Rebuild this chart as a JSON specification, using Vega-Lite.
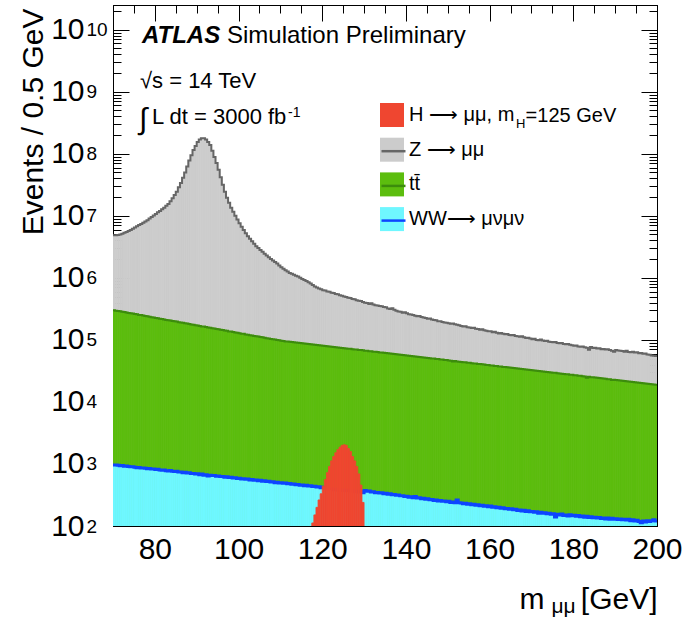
{
"$schema": "https://vega.github.io/schema/vega-lite/v6.json",
"autosize": {"type": "none"},
"padding": {"left": 113, "top": 5, "right": 38, "bottom": 92},
"width": 544,
"height": 521,
"background": "white",
"config": {
  "font": "Liberation Sans",
  "view": {"stroke": "black", "strokeWidth": 1},
  "axis": {"grid": false, "domainColor": "black", "tickColor": "black", "labelColor": "black", "titleColor": "black", "labelFont": "Liberation Sans", "titleFont": "Liberation Sans", "titleFontWeight": "normal", "zindex": 1, "tickWidth": 1, "domainWidth": 1, "labelOverlap": false, "labelFlush": false},
  "legend": {"labelFont": "Liberation Sans", "labelColor": "black"}
},
"data": {"values": [
{"m":70,"z":4.84e6,"t":3.01e5,"w":966},
{"m":70.5,"z":4.86e6,"t":2.95e5,"w":958},
{"m":71,"z":4.90e6,"t":2.92e5,"w":955},
{"m":71.5,"z":5.01e6,"t":2.90e5,"w":938},
{"m":72,"z":5.13e6,"t":2.84e5,"w":942},
{"m":72.5,"z":5.31e6,"t":2.81e5,"w":920},
{"m":73,"z":5.50e6,"t":2.77e5,"w":925},
{"m":73.5,"z":5.69e6,"t":2.71e5,"w":910},
{"m":74,"z":5.89e6,"t":2.69e5,"w":898},
{"m":74.5,"z":6.17e6,"t":2.66e5,"w":905},
{"m":75,"z":6.46e6,"t":2.61e5,"w":884},
{"m":75.5,"z":6.76e6,"t":2.58e5,"w":870},
{"m":76,"z":7.08e6,"t":2.52e5,"w":880},
{"m":76.5,"z":7.41e6,"t":2.51e5,"w":860},
{"m":77,"z":7.76e6,"t":2.47e5,"w":862},
{"m":77.5,"z":8.13e6,"t":2.42e5,"w":850},
{"m":78,"z":8.51e6,"t":2.40e5,"w":838},
{"m":78.5,"z":9.02e6,"t":2.36e5,"w":845},
{"m":79,"z":9.55e6,"t":2.32e5,"w":826},
{"m":79.5,"z":1.01e7,"t":2.30e5,"w":830},
{"m":80,"z":1.07e7,"t":2.26e5,"w":812},
{"m":80.5,"z":1.14e7,"t":2.24e5,"w":820},
{"m":81,"z":1.20e7,"t":2.19e5,"w":800},
{"m":81.5,"z":1.27e7,"t":2.17e5,"w":792},
{"m":82,"z":1.35e7,"t":2.14e5,"w":800},
{"m":82.5,"z":1.45e7,"t":2.10e5,"w":780},
{"m":83,"z":1.55e7,"t":2.08e5,"w":770},
{"m":83.5,"z":1.72e7,"t":2.06e5,"w":785},
{"m":84,"z":1.91e7,"t":2.02e5,"w":762},
{"m":84.5,"z":2.16e7,"t":1.99e5,"w":755},
{"m":85,"z":2.45e7,"t":1.97e5,"w":760},
{"m":85.5,"z":2.88e7,"t":1.93e5,"w":740},
{"m":86,"z":3.39e7,"t":1.91e5,"w":745},
{"m":86.5,"z":4.12e7,"t":1.89e5,"w":725},
{"m":87,"z":5.01e7,"t":1.85e5,"w":735},
{"m":87.5,"z":6.24e7,"t":1.83e5,"w":712},
{"m":88,"z":7.76e7,"t":1.81e5,"w":720},
{"m":88.5,"z":9.44e7,"t":1.77e5,"w":700},
{"m":89,"z":1.15e8,"t":1.75e5,"w":705},
{"m":89.5,"z":1.33e8,"t":1.72e5,"w":690},
{"m":90,"z":1.55e8,"t":1.71e5,"w":695},
{"m":90.5,"z":1.70e8,"t":1.68e5,"w":670},
{"m":91,"z":1.78e8,"t":1.65e5,"w":688},
{"m":91.5,"z":1.78e8,"t":1.64e5,"w":660},
{"m":92,"z":1.70e8,"t":1.61e5,"w":668},
{"m":92.5,"z":1.55e8,"t":1.59e5,"w":640},
{"m":93,"z":1.38e8,"t":1.57e5,"w":660},
{"m":93.5,"z":1.12e8,"t":1.54e5,"w":650},
{"m":94,"z":8.91e7,"t":1.52e5,"w":652},
{"m":94.5,"z":7.08e7,"t":1.50e5,"w":635},
{"m":95,"z":5.50e7,"t":1.48e5,"w":640},
{"m":95.5,"z":4.17e7,"t":1.46e5,"w":625},
{"m":96,"z":3.16e7,"t":1.44e5,"w":630},
{"m":96.5,"z":2.45e7,"t":1.42e5,"w":612},
{"m":97,"z":1.95e7,"t":1.40e5,"w":620},
{"m":97.5,"z":1.62e7,"t":1.37e5,"w":605},
{"m":98,"z":1.35e7,"t":1.36e5,"w":608},
{"m":98.5,"z":1.16e7,"t":1.34e5,"w":595},
{"m":99,"z":1.00e7,"t":1.32e5,"w":600},
{"m":99.5,"z":8.71e6,"t":1.30e5,"w":585},
{"m":100,"z":7.59e6,"t":1.28e5,"w":590},
{"m":100.5,"z":6.68e6,"t":1.26e5,"w":572},
{"m":101,"z":5.89e6,"t":1.25e5,"w":580},
{"m":101.5,"z":5.25e6,"t":1.22e5,"w":565},
{"m":102,"z":4.68e6,"t":1.21e5,"w":570},
{"m":102.5,"z":4.27e6,"t":1.19e5,"w":552},
{"m":103,"z":3.89e6,"t":1.18e5,"w":562},
{"m":103.5,"z":3.55e6,"t":1.16e5,"w":545},
{"m":104,"z":3.24e6,"t":1.14e5,"w":550},
{"m":104.5,"z":3.02e6,"t":1.13e5,"w":538},
{"m":105,"z":2.82e6,"t":1.11e5,"w":544},
{"m":105.5,"z":2.63e6,"t":1.10e5,"w":528},
{"m":106,"z":2.45e6,"t":1.08e5,"w":535},
{"m":106.5,"z":2.29e6,"t":1.06e5,"w":520},
{"m":107,"z":2.14e6,"t":1.05e5,"w":524},
{"m":107.5,"z":2.02e6,"t":1.03e5,"w":512},
{"m":108,"z":1.91e6,"t":1.02e5,"w":516},
{"m":108.5,"z":1.80e6,"t":1.01e5,"w":500},
{"m":109,"z":1.70e6,"t":9.93e4,"w":508},
{"m":109.5,"z":1.58e6,"t":9.82e4,"w":495},
{"m":110,"z":1.48e6,"t":9.66e4,"w":500},
{"m":110.5,"z":1.40e6,"t":9.57e4,"w":488},
{"m":111,"z":1.32e6,"t":9.46e4,"w":492},
{"m":111.5,"z":1.26e6,"t":9.42e4,"w":478},
{"m":112,"z":1.20e6,"t":9.29e4,"w":484},
{"m":112.5,"z":1.16e6,"t":9.25e4,"w":470},
{"m":113,"z":1.12e6,"t":9.12e4,"w":476},
{"m":113.5,"z":1.08e6,"t":9.04e4,"w":462},
{"m":114,"z":1.05e6,"t":8.97e4,"w":468},
{"m":114.5,"z":1.00e6,"t":8.87e4,"w":455},
{"m":115,"z":9.55e5,"t":8.83e4,"w":458},
{"m":115.5,"z":9.23e5,"t":8.73e4,"w":446},
{"m":116,"z":8.91e5,"t":8.65e4,"w":452},
{"m":116.5,"z":8.51e5,"t":8.61e4,"w":440},
{"m":117,"z":8.13e5,"t":8.49e4,"w":444},
{"m":117.5,"z":7.67e5,"t":8.45e4,"w":432,"h":112},
{"m":118,"z":7.24e5,"t":8.34e4,"w":437,"h":151},
{"m":118.5,"z":7.00e5,"t":8.28e4,"w":425,"h":200},
{"m":119,"z":6.76e5,"t":8.20e4,"w":430,"h":263},
{"m":119.5,"z":6.53e5,"t":8.15e4,"w":415,"h":331},
{"m":120,"z":6.31e5,"t":8.04e4,"w":422,"h":437},
{"m":120.5,"z":6.24e5,"t":8.00e4,"w":405,"h":562},
{"m":121,"z":6.03e5,"t":7.89e4,"w":412,"h":724},
{"m":121.5,"z":5.96e5,"t":7.83e4,"w":400,"h":912},
{"m":122,"z":5.75e5,"t":7.76e4,"w":398,"h":1122},
{"m":122.5,"z":5.69e5,"t":7.71e4,"w":385,"h":1318},
{"m":123,"z":5.50e5,"t":7.60e4,"w":392,"h":1514},
{"m":123.5,"z":5.43e5,"t":7.55e4,"w":380,"h":1698},
{"m":124,"z":5.25e5,"t":7.48e4,"w":388,"h":1862},
{"m":124.5,"z":5.13e5,"t":7.41e4,"w":375,"h":1995},
{"m":125,"z":5.01e5,"t":7.36e4,"w":380,"h":2042},
{"m":125.5,"z":4.90e5,"t":7.28e4,"w":370,"h":1995},
{"m":126,"z":4.79e5,"t":7.21e4,"w":376,"h":1778},
{"m":126.5,"z":4.73e5,"t":7.18e4,"w":365,"h":1585},
{"m":127,"z":4.57e5,"t":7.08e4,"w":368,"h":1318},
{"m":127.5,"z":4.52e5,"t":7.03e4,"w":358,"h":1122},
{"m":128,"z":4.37e5,"t":6.97e4,"w":362,"h":912},
{"m":128.5,"z":4.27e5,"t":6.89e4,"w":352,"h":692},
{"m":129,"z":4.22e5,"t":6.84e4,"w":356,"h":457},
{"m":129.5,"z":4.07e5,"t":6.79e4,"w":345,"h":240},
{"m":130,"z":3.98e5,"t":6.70e4,"w":372},
{"m":130.5,"z":3.94e5,"t":6.67e4,"w":362},
{"m":131,"z":3.80e5,"t":6.58e4,"w":365},
{"m":131.5,"z":3.89e5,"t":6.55e4,"w":352},
{"m":132,"z":3.72e5,"t":6.46e4,"w":356},
{"m":132.5,"z":3.63e5,"t":6.43e4,"w":345},
{"m":133,"z":3.59e5,"t":6.35e4,"w":348},
{"m":133.5,"z":3.51e5,"t":6.28e4,"w":340},
{"m":134,"z":3.47e5,"t":6.24e4,"w":342},
{"m":134.5,"z":3.39e5,"t":6.18e4,"w":332},
{"m":135,"z":3.35e5,"t":6.14e4,"w":338},
{"m":135.5,"z":3.20e5,"t":6.07e4,"w":325},
{"m":136,"z":3.16e5,"t":6.04e4,"w":330},
{"m":136.5,"z":3.24e5,"t":5.96e4,"w":318},
{"m":137,"z":3.05e5,"t":5.92e4,"w":322},
{"m":137.5,"z":2.95e5,"t":5.86e4,"w":312},
{"m":138,"z":2.88e5,"t":5.79e4,"w":315},
{"m":138.5,"z":2.85e5,"t":5.77e4,"w":306},
{"m":139,"z":2.75e5,"t":5.69e4,"w":308},
{"m":139.5,"z":2.79e5,"t":5.65e4,"w":298},
{"m":140,"z":2.69e5,"t":5.60e4,"w":302},
{"m":140.5,"z":2.60e5,"t":5.53e4,"w":292},
{"m":141,"z":2.57e5,"t":5.51e4,"w":296},
{"m":141.5,"z":2.51e5,"t":5.43e4,"w":285},
{"m":142,"z":2.45e5,"t":5.41e4,"w":300},
{"m":142.5,"z":2.40e5,"t":5.33e4,"w":282},
{"m":143,"z":2.43e5,"t":5.31e4,"w":285},
{"m":143.5,"z":2.34e5,"t":5.24e4,"w":276},
{"m":144,"z":2.29e5,"t":5.20e4,"w":280},
{"m":144.5,"z":2.26e5,"t":5.16e4,"w":270},
{"m":145,"z":2.19e5,"t":5.11e4,"w":274},
{"m":145.5,"z":2.21e5,"t":5.07e4,"w":265},
{"m":146,"z":2.14e5,"t":5.01e4,"w":268},
{"m":146.5,"z":2.09e5,"t":4.99e4,"w":258},
{"m":147,"z":2.07e5,"t":4.92e4,"w":262},
{"m":147.5,"z":2.00e5,"t":4.90e4,"w":254},
{"m":148,"z":2.00e5,"t":4.83e4,"w":258},
{"m":148.5,"z":1.95e5,"t":4.81e4,"w":250},
{"m":149,"z":1.91e5,"t":4.74e4,"w":252},
{"m":149.5,"z":1.88e5,"t":4.72e4,"w":245},
{"m":150,"z":1.86e5,"t":4.67e4,"w":250},
{"m":150.5,"z":1.82e5,"t":4.61e4,"w":240},
{"m":151,"z":1.84e5,"t":4.49e4,"w":244},
{"m":151.5,"z":1.78e5,"t":4.55e4,"w":236},
{"m":152,"z":1.76e5,"t":4.50e4,"w":262},
{"m":152.5,"z":1.72e5,"t":4.45e4,"w":238},
{"m":153,"z":1.68e5,"t":4.42e4,"w":235},
{"m":153.5,"z":1.64e5,"t":4.37e4,"w":228},
{"m":154,"z":1.66e5,"t":4.34e4,"w":232},
{"m":154.5,"z":1.60e5,"t":4.29e4,"w":225},
{"m":155,"z":1.58e5,"t":4.26e4,"w":228},
{"m":155.5,"z":1.55e5,"t":4.22e4,"w":220},
{"m":156,"z":1.57e5,"t":4.18e4,"w":224},
{"m":156.5,"z":1.51e5,"t":4.15e4,"w":216},
{"m":157,"z":1.50e5,"t":4.10e4,"w":220},
{"m":157.5,"z":1.46e5,"t":4.07e4,"w":212},
{"m":158,"z":1.48e5,"t":4.03e4,"w":216},
{"m":158.5,"z":1.43e5,"t":4.00e4,"w":208},
{"m":159,"z":1.41e5,"t":3.95e4,"w":212},
{"m":159.5,"z":1.38e5,"t":3.93e4,"w":204},
{"m":160,"z":1.38e5,"t":3.88e4,"w":210},
{"m":160.5,"z":1.33e5,"t":3.85e4,"w":200},
{"m":161,"z":1.35e5,"t":3.81e4,"w":204},
{"m":161.5,"z":1.30e5,"t":3.78e4,"w":197},
{"m":162,"z":1.27e5,"t":3.74e4,"w":200},
{"m":162.5,"z":1.29e5,"t":3.72e4,"w":193},
{"m":163,"z":1.26e5,"t":3.67e4,"w":196},
{"m":163.5,"z":1.23e5,"t":3.65e4,"w":189},
{"m":164,"z":1.24e5,"t":3.61e4,"w":192},
{"m":164.5,"z":1.20e5,"t":3.58e4,"w":186},
{"m":165,"z":1.19e5,"t":3.55e4,"w":189},
{"m":165.5,"z":1.20e5,"t":3.52e4,"w":182},
{"m":166,"z":1.15e5,"t":3.48e4,"w":186},
{"m":166.5,"z":1.14e5,"t":3.46e4,"w":178},
{"m":167,"z":1.12e5,"t":3.42e4,"w":181},
{"m":167.5,"z":1.14e5,"t":3.40e4,"w":175},
{"m":168,"z":1.10e5,"t":3.36e4,"w":179},
{"m":168.5,"z":1.07e5,"t":3.33e4,"w":172},
{"m":169,"z":1.08e5,"t":3.30e4,"w":176},
{"m":169.5,"z":1.05e5,"t":3.27e4,"w":169},
{"m":170,"z":1.02e5,"t":3.24e4,"w":172},
{"m":170.5,"z":1.04e5,"t":3.21e4,"w":166},
{"m":171,"z":1.00e5,"t":3.18e4,"w":169},
{"m":171.5,"z":9.89e4,"t":3.16e4,"w":160},
{"m":172,"z":1.01e5,"t":3.12e4,"w":166},
{"m":172.5,"z":9.77e4,"t":3.10e4,"w":160},
{"m":173,"z":9.55e4,"t":3.06e4,"w":163},
{"m":173.5,"z":9.66e4,"t":3.04e4,"w":157},
{"m":174,"z":9.33e4,"t":3.01e4,"w":160},
{"m":174.5,"z":9.23e4,"t":2.99e4,"w":154},
{"m":175,"z":9.12e4,"t":2.96e4,"w":157},
{"m":175.5,"z":9.23e4,"t":2.94e4,"w":140},
{"m":176,"z":8.91e4,"t":2.90e4,"w":155},
{"m":176.5,"z":8.81e4,"t":2.88e4,"w":150},
{"m":177,"z":8.91e4,"t":2.85e4,"w":156},
{"m":177.5,"z":8.61e4,"t":2.83e4,"w":148},
{"m":178,"z":8.51e4,"t":2.80e4,"w":151},
{"m":178.5,"z":8.61e4,"t":2.78e4,"w":145},
{"m":179,"z":8.32e4,"t":2.75e4,"w":152},
{"m":179.5,"z":8.22e4,"t":2.73e4,"w":146},
{"m":180,"z":8.04e4,"t":2.70e4,"w":149},
{"m":180.5,"z":8.13e4,"t":2.68e4,"w":143},
{"m":181,"z":7.85e4,"t":2.65e4,"w":147},
{"m":181.5,"z":7.76e4,"t":2.63e4,"w":141},
{"m":182,"z":7.85e4,"t":2.60e4,"w":145},
{"m":182.5,"z":7.59e4,"t":2.58e4,"w":139},
{"m":183,"z":7.50e4,"t":2.45e4,"w":143},
{"m":183.5,"z":6.92e4,"t":2.54e4,"w":137},
{"m":184,"z":7.67e4,"t":2.51e4,"w":141},
{"m":184.5,"z":7.41e4,"t":2.49e4,"w":136},
{"m":185,"z":7.50e4,"t":2.47e4,"w":139},
{"m":185.5,"z":7.24e4,"t":2.45e4,"w":134},
{"m":186,"z":7.33e4,"t":2.42e4,"w":137},
{"m":186.5,"z":7.08e4,"t":2.40e4,"w":132},
{"m":187,"z":7.16e4,"t":2.38e4,"w":135},
{"m":187.5,"z":7.00e4,"t":2.36e4,"w":130},
{"m":188,"z":7.08e4,"t":2.33e4,"w":134},
{"m":188.5,"z":6.84e4,"t":2.32e4,"w":129},
{"m":189,"z":6.68e4,"t":2.26e4,"w":133},
{"m":189.5,"z":6.46e4,"t":2.28e4,"w":128},
{"m":190,"z":6.84e4,"t":2.25e4,"w":131},
{"m":190.5,"z":6.76e4,"t":2.23e4,"w":127},
{"m":191,"z":6.68e4,"t":2.21e4,"w":130},
{"m":191.5,"z":6.61e4,"t":2.19e4,"w":126},
{"m":192,"z":6.46e4,"t":2.17e4,"w":129},
{"m":192.5,"z":6.68e4,"t":2.15e4,"w":125},
{"m":193,"z":6.38e4,"t":2.13e4,"w":128},
{"m":193.5,"z":6.31e4,"t":2.11e4,"w":122},
{"m":194,"z":6.46e4,"t":2.09e4,"w":126},
{"m":194.5,"z":6.24e4,"t":2.07e4,"w":120},
{"m":195,"z":6.31e4,"t":2.06e4,"w":124},
{"m":195.5,"z":6.10e4,"t":2.04e4,"w":118},
{"m":196,"z":6.17e4,"t":2.02e4,"w":113},
{"m":196.5,"z":5.96e4,"t":2.00e4,"w":120},
{"m":197,"z":6.03e4,"t":1.98e4,"w":116},
{"m":197.5,"z":5.82e4,"t":1.97e4,"w":122},
{"m":198,"z":5.75e4,"t":1.95e4,"w":118},
{"m":198.5,"z":5.62e4,"t":1.93e4,"w":121},
{"m":199,"z":5.56e4,"t":1.91e4,"w":126},
{"m":199.5,"z":5.50e4,"t":1.90e4,"w":120}
]},
"transform": [
  {"fold": ["z", "t", "w", "h"], "as": ["proc", "v"]},
  {"filter": "isValid(datum.v) && datum.v > 0"},
  {"bin": {"step": 0.5, "extent": [70, 200]}, "field": "m", "as": ["lo", "hi"]}
],
"resolve": {"axis": {"x": "independent", "y": "independent"}},
"layer": [
  {
    "transform": [{"filter": "datum.proc == 'z'"}],
    "mark": {"type": "bar", "clip": true, "opacity": 1, "stroke": "#cccccc", "strokeWidth": 0.8},
    "encoding": {
      "x": {"field": "lo", "type": "quantitative", "scale": {"domain": [70, 200], "nice": false, "zero": false},
        "axis": {"orient": "bottom", "values": [80, 100, 120, 140, 160, 180, 200], "tickSize": -16, "labelFontSize": 30, "labelPadding": 24, "title": "[GeV]", "titleFontSize": 30, "titleX": 544, "titleY": 82, "titleAlign": "right", "titleBaseline": "alphabetic"}},
      "x2": {"field": "hi"},
      "y": {"field": "v", "type": "quantitative", "stack": null, "scale": {"type": "log", "domain": [100, 2.5e10], "nice": false},
        "axis": {"orient": "left", "values": [1e2, 1e3, 1e4, 1e5, 1e6, 1e7, 1e8, 1e9, 1e10], "tickSize": -16, "labelExpr": "'10'", "labelFontSize": 30, "labelAlign": "right", "labelBaseline": "middle", "labelPadding": 45, "title": "Events / 0.5 GeV", "titleFontSize": 30, "titleAngle": -90, "titleX": -80, "titleY": 3, "titleAlign": "right", "titleBaseline": "middle"}},
      "y2": {"datum": 100},
      "fill": {"field": "proc", "type": "nominal",
        "scale": {"domain": ["h", "z", "t", "w"], "range": ["#ef4630", "#cccccc", "#5cbd0e", "#6ff7ff"]},
        "legend": {"orient": "none", "legendX": 267, "legendY": 98, "zindex": 1, "title": null, "symbolType": "square", "symbolSize": 576, "symbolStrokeWidth": 0, "symbolOpacity": 1, "labelFontSize": 20, "labelOffset": 5, "labelLimit": 400, "rowPadding": 10.7, "padding": 0,
          "labelExpr": "datum.label == 'h' ? 'H \u27f6 \u03bc\u03bc, m' : datum.label == 'z' ? 'Z \u27f6 \u03bc\u03bc' : datum.label == 't' ? 'tt\u0304' : 'WW\u27f6 \u03bc\u03bd\u03bc\u03bd'"}}
    }
  },
  {
    "transform": [{"filter": "datum.proc == 'z'"}, {"fold": ["lo", "hi"], "as": ["edge", "x"]}, {"window": [{"op": "row_number", "as": "idx"}]}],
    "mark": {"type": "line", "clip": true, "strokeWidth": 2},
    "encoding": {
      "x": {"field": "x", "type": "quantitative",
        "axis": {"orient": "bottom", "values": [70, 75, 80, 85, 90, 95, 100, 105, 110, 115, 120, 125, 130, 135, 140, 145, 150, 155, 160, 165, 170, 175, 180, 185, 190, 195, 200], "tickSize": -8, "labels": false, "domain": false, "title": "m", "titleFontSize": 30, "titleX": 406, "titleY": 82, "titleAlign": "left", "titleBaseline": "alphabetic"}},
      "y": {"field": "v", "type": "quantitative",
        "axis": {"orient": "left", "values": [200, 300, 400, 500, 600, 700, 800, 900, 2000, 3000, 4000, 5000, 6000, 7000, 8000, 9000, 2e4, 3e4, 4e4, 5e4, 6e4, 7e4, 8e4, 9e4, 2e5, 3e5, 4e5, 5e5, 6e5, 7e5, 8e5, 9e5, 2e6, 3e6, 4e6, 5e6, 6e6, 7e6, 8e6, 9e6, 2e7, 3e7, 4e7, 5e7, 6e7, 7e7, 8e7, 9e7, 2e8, 3e8, 4e8, 5e8, 6e8, 7e8, 8e8, 9e8, 2e9, 3e9, 4e9, 5e9, 6e9, 7e9, 8e9, 9e9, 2e10], "tickSize": -8, "labels": false, "domain": false, "title": null}},
      "order": {"field": "idx", "type": "quantitative"},
      "stroke": {"field": "proc", "type": "nominal",
        "scale": {"domain": ["z", "t", "w"], "range": ["#666666", "#3c8c0c", "#0d45ff"]},
        "legend": {"orient": "none", "legendX": 267, "legendY": 132.7, "zindex": 2, "title": null, "symbolType": "stroke", "symbolSize": 576, "symbolStrokeWidth": 2.5, "labelFontSize": 20, "labelOffset": 5, "rowPadding": 10.7, "padding": 0, "labelExpr": "''"}}
    }
  },
  {
    "transform": [{"filter": "datum.proc == 't'"}],
    "mark": {"type": "bar", "clip": true, "opacity": 1, "stroke": "#5cbd0e", "strokeWidth": 0.8},
    "encoding": {
      "x": {"field": "lo", "type": "quantitative",
        "axis": {"orient": "top", "values": [80, 100, 120, 140, 160, 180, 200], "tickSize": -16, "labels": false, "domain": true, "title": "\u03bc\u03bc", "titleFontSize": 21, "titleX": 438, "titleY": 607, "titleAlign": "left", "titleBaseline": "alphabetic"}},
      "x2": {"field": "hi"},
      "y": {"field": "v", "type": "quantitative", "stack": null,
        "axis": {"orient": "right", "values": [1e2, 1e3, 1e4, 1e5, 1e6, 1e7, 1e8, 1e9, 1e10], "tickSize": -16, "labels": false, "domain": true, "title": null}},
      "y2": {"datum": 100},
      "fill": {"field": "proc", "type": "nominal", "legend": null}
    }
  },
  {
    "transform": [{"filter": "datum.proc == 't'"}, {"fold": ["lo", "hi"], "as": ["edge", "x"]}, {"window": [{"op": "row_number", "as": "idx"}]}],
    "mark": {"type": "line", "clip": true, "strokeWidth": 2},
    "encoding": {
      "x": {"field": "x", "type": "quantitative",
        "axis": {"orient": "top", "values": [70, 75, 80, 85, 90, 95, 100, 105, 110, 115, 120, 125, 130, 135, 140, 145, 150, 155, 160, 165, 170, 175, 180, 185, 190, 195, 200], "tickSize": -8, "labels": false, "domain": false, "title": null}},
      "y": {"field": "v", "type": "quantitative",
        "axis": {"orient": "right", "values": [200, 300, 400, 500, 600, 700, 800, 900, 2000, 3000, 4000, 5000, 6000, 7000, 8000, 9000, 2e4, 3e4, 4e4, 5e4, 6e4, 7e4, 8e4, 9e4, 2e5, 3e5, 4e5, 5e5, 6e5, 7e5, 8e5, 9e5, 2e6, 3e6, 4e6, 5e6, 6e6, 7e6, 8e6, 9e6, 2e7, 3e7, 4e7, 5e7, 6e7, 7e7, 8e7, 9e7, 2e8, 3e8, 4e8, 5e8, 6e8, 7e8, 8e8, 9e8, 2e9, 3e9, 4e9, 5e9, 6e9, 7e9, 8e9, 9e9, 2e10], "tickSize": -8, "labels": false, "domain": false, "title": null}},
      "order": {"field": "idx", "type": "quantitative"},
      "stroke": {"field": "proc", "type": "nominal", "legend": null}
    }
  },
  {
    "transform": [{"filter": "datum.proc == 'w'"}],
    "mark": {"type": "bar", "clip": true, "opacity": 1, "stroke": "#6ff7ff", "strokeWidth": 0.8},
    "encoding": {
      "x": {"field": "lo", "type": "quantitative", "axis": null},
      "x2": {"field": "hi"},
      "y": {"field": "v", "type": "quantitative", "stack": null,
        "axis": {"orient": "left", "values": [1e2, 1e3, 1e4, 1e5, 1e6, 1e7, 1e8, 1e9, 1e10], "ticks": false, "domain": false, "labelExpr": "'' + round(log(datum.value) / LN10)", "labelFontSize": 19, "labelAlign": "left", "labelBaseline": "middle", "labelPadding": 27, "labelDy": -12, "title": null}},
      "y2": {"datum": 100},
      "fill": {"field": "proc", "type": "nominal", "legend": null}
    }
  },
  {
    "transform": [{"filter": "datum.proc == 'w'"}, {"fold": ["lo", "hi"], "as": ["edge", "x"]}, {"window": [{"op": "row_number", "as": "idx"}]}],
    "mark": {"type": "line", "clip": true, "strokeWidth": 3},
    "encoding": {
      "x": {"field": "x", "type": "quantitative", "axis": null},
      "y": {"field": "v", "type": "quantitative", "axis": null},
      "order": {"field": "idx", "type": "quantitative"},
      "stroke": {"field": "proc", "type": "nominal", "legend": null}
    }
  },
  {
    "transform": [{"filter": "datum.proc == 'h'"}],
    "mark": {"type": "bar", "clip": true, "opacity": 1, "stroke": "#ef4630", "strokeWidth": 0.8},
    "encoding": {
      "x": {"field": "lo", "type": "quantitative", "axis": null},
      "x2": {"field": "hi"},
      "y": {"field": "v", "type": "quantitative", "stack": null, "axis": null},
      "y2": {"datum": 100},
      "fill": {"field": "proc", "type": "nominal", "legend": null}
    }
  },
  {
    "data": {"values": [{}]},
    "mark": {"type": "text", "text": "ATLAS", "font": "Liberation Sans", "fontSize": 24, "fontStyle": "italic", "fontWeight": "bold", "align": "left", "baseline": "alphabetic", "color": "black"},
    "encoding": {"x": {"datum": 76.93, "type": "quantitative", "axis": null}, "y": {"datum": 6.15e9, "type": "quantitative", "axis": null}}
  },
  {
    "data": {"values": [{}]},
    "mark": {"type": "text", "text": "Simulation Preliminary", "font": "Liberation Sans", "fontSize": 24, "align": "left", "baseline": "alphabetic", "color": "black"},
    "encoding": {"x": {"datum": 97.24, "type": "quantitative", "axis": null}, "y": {"datum": 6.15e9, "type": "quantitative", "axis": null}}
  },
  {
    "data": {"values": [{}]},
    "mark": {"type": "text", "text": "\u221as = 14 TeV", "font": "Liberation Sans", "fontSize": 22, "align": "left", "baseline": "alphabetic", "color": "black"},
    "encoding": {"x": {"datum": 76.45, "type": "quantitative", "axis": null}, "y": {"datum": 1.16e9, "type": "quantitative", "axis": null}}
  },
  {
    "data": {"values": [{}]},
    "mark": {"type": "text", "text": "\u222b", "font": "Liberation Sans", "fontSize": 30, "align": "left", "baseline": "alphabetic", "color": "black"},
    "encoding": {"x": {"datum": 76.2, "type": "quantitative", "axis": null}, "y": {"datum": 2.55e8, "type": "quantitative", "axis": null}}
  },
  {
    "data": {"values": [{}]},
    "mark": {"type": "text", "text": "L dt = 3000 fb", "font": "Liberation Sans", "fontSize": 22, "align": "left", "baseline": "alphabetic", "color": "black"},
    "encoding": {"x": {"datum": 79.32, "type": "quantitative", "axis": null}, "y": {"datum": 3.07e8, "type": "quantitative", "axis": null}}
  },
  {
    "data": {"values": [{}]},
    "mark": {"type": "text", "text": "-1", "font": "Liberation Sans", "fontSize": 14, "align": "left", "baseline": "alphabetic", "color": "black"},
    "encoding": {"x": {"datum": 111.82, "type": "quantitative", "axis": null}, "y": {"datum": 3.98e8, "type": "quantitative", "axis": null}}
  },
  {
    "data": {"values": [{}]},
    "mark": {"type": "text", "text": "H", "font": "Liberation Sans", "fontSize": 13, "align": "left", "baseline": "alphabetic", "color": "black"},
    "encoding": {"x": {"datum": 166.3, "type": "quantitative", "axis": null}, "y": {"datum": 2.6e8, "type": "quantitative", "axis": null}}
  },
  {
    "data": {"values": [{}]},
    "mark": {"type": "text", "text": "=125 GeV", "font": "Liberation Sans", "fontSize": 20, "align": "left", "baseline": "alphabetic", "color": "black"},
    "encoding": {"x": {"datum": 168.6, "type": "quantitative", "axis": null}, "y": {"datum": 3.22e8, "type": "quantitative", "axis": null}}
  }
]
}
